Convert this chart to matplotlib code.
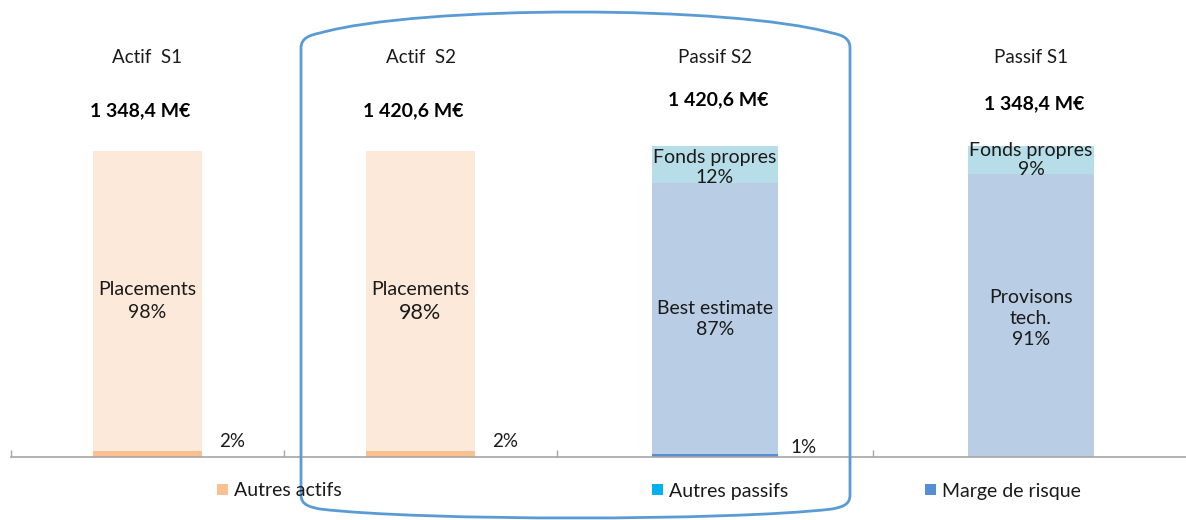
import numpy as np
import matplotlib
matplotlib.use('Agg')
import matplotlib.pyplot as plt
from matplotlib.path import Path
from matplotlib.patches import PathPatch

plt.rcParams['font.family'] = ['Lato', 'DejaVu Sans']

# données
actif_noms = ['Actif  S1', 'Actif  S2']
actif_totaux = ['1 348,4 M€', '1 420,6 M€']
autres_actifs = [2, 2]
placements = [98, 98]

passif_noms = ['Passif S2', 'Passif S1']
passif_totaux = ['1 420,6 M€', '1 348,4 M€']
marge_risque = [1, 0]
provisions = [87, 91]
fonds_propres = [12, 9]
autres_passifs = [0, 0]
provisions_labels = ['Best estimate', 'Provisons\ntech.']

c_place = '#FDE9D9'
c_autres_act = '#FAC090'
c_prov = '#B9CDE5'
c_fp = '#B7DEE8'
c_marge = '#558ED5'
c_autres_pas = '#00B0F0'
c_txt = '#1A1A1A'
c_axe = '#A6A6A6'

W, H = 1186, 520
fig = plt.figure(figsize=(W / 100, H / 100), dpi=100)

base = 63 / H
# deux graphiques côte à côte (actif / passif)
ax1 = fig.add_axes([11 / W, base, 546 / W, 1 - base])
ax2 = fig.add_axes([557 / W, base, 632 / W, 1 - base])
ax1.set_ylim(0, 100 * 457 / 306)
ax2.set_ylim(0, 100 * 457 / 311)

for ax in (ax1, ax2):
    ax.set_xlim(-0.5, 1.5)
    for s in ['top', 'left', 'right']:
        ax.spines[s].set_visible(False)
    ax.spines['bottom'].set_color(c_axe)
    ax.spines['bottom'].set_linewidth(1.2)
    ax.set_yticks([])
    ax.set_xticks([-0.5, 0.5])
    ax.set_xticklabels([])
    ax.tick_params(axis='x', direction='in', length=5, color=c_axe, width=1)
    ax.patch.set_alpha(0)

x = np.arange(2)
w = 0.4

# actif
b_aa = ax1.bar(x, autres_actifs, w, color=c_autres_act, label='Autres actifs')
ax1.bar(x, placements, w, bottom=autres_actifs, color=c_place)

for i in range(2):
    ax1.text(x[i], 130.7, actif_noms[i], ha='center', va='center', fontsize=13.5, color=c_txt)
    ax1.text(x[i] - 0.025, 113, actif_totaux[i], ha='center', va='center', fontsize=14,
             fontweight='bold', color='black')
    ax1.text(x[i], 54.8, 'Placements', ha='center', va='center', fontsize=14, color=c_txt)
    ax1.text(x[i], 47.2, f'{placements[i]}%', ha='center', va='center',
             fontsize=14 if i == 0 else 15.5, color=c_txt)
    ax1.text(x[i] + 0.31, 5.2, f'{autres_actifs[i]}%', ha='center', va='center',
             fontsize=13.5, color=c_txt)

# passif
b_ap = ax2.bar(x, autres_passifs, w, color=c_autres_pas, label='Autres passifs')
b_mr = ax2.bar(x, marge_risque, w, color=c_marge, label='Marge de risque')
bot = np.array(marge_risque)
ax2.bar(x, provisions, w, bottom=bot, color=c_prov)
bot = bot + np.array(provisions)
ax2.bar(x, fonds_propres, w, bottom=bot, color=c_fp)

tot_y = [115, 113.5]
fp_y = [93.2, 95.5]
for i in range(2):
    ax2.text(x[i], 128.6, passif_noms[i], ha='center', va='center', fontsize=13.5, color=c_txt)
    ax2.text(x[i] + 0.01, tot_y[i], passif_totaux[i], ha='center', va='center', fontsize=14,
             fontweight='bold', color='black')
    ax2.text(x[i], 44.5, f'{provisions_labels[i]}\n{provisions[i]}%', ha='center',
             va='center', fontsize=14, color=c_txt, linespacing=1.3)
    ax2.text(x[i], fp_y[i], f'Fonds propres\n{fonds_propres[i]}%', ha='center',
             va='center', fontsize=14, color=c_txt, linespacing=1.2)
ax2.text(x[0] + 0.28, 2.9, f'{marge_risque[0]}%', ha='center', va='center',
         fontsize=13.5, color=c_txt)

# légendes
for h, lx in [(b_aa, 217), (b_ap, 652), (b_mr, 925)]:
    fig.legend(handles=[h], loc='center left', bbox_to_anchor=(lx / W, 1 - 491 / H),
               frameon=False, fontsize=14, handlelength=0.55, handleheight=0.55,
               handletextpad=0.3, borderpad=0, borderaxespad=0, labelcolor=c_txt)

# encadré S2
def p(px, py):
    return (px / W, 1 - py / H)

verts = [p(301, 495), p(301, 48),
         p(301, 38), p(310, 35), p(320, 33),
         p(420, 5), p(730, 5), p(832, 33),
         p(842, 35), p(850, 38), p(850, 48),
         p(850, 495),
         p(850, 505), p(842, 507), p(832, 509),
         p(730, 521), p(420, 521), p(320, 509),
         p(310, 507), p(301, 505), p(301, 495),
         p(301, 495)]
codes = [Path.MOVETO, Path.LINETO] + [Path.CURVE4] * 9 + [Path.LINETO] + [Path.CURVE4] * 9 + [Path.CLOSEPOLY]
fig.add_artist(PathPatch(Path(verts, codes), facecolor='none', edgecolor='#5B9BD5',
                         lw=2, transform=fig.transFigure, clip_on=False))

fig.savefig('out.png', dpi=100)
